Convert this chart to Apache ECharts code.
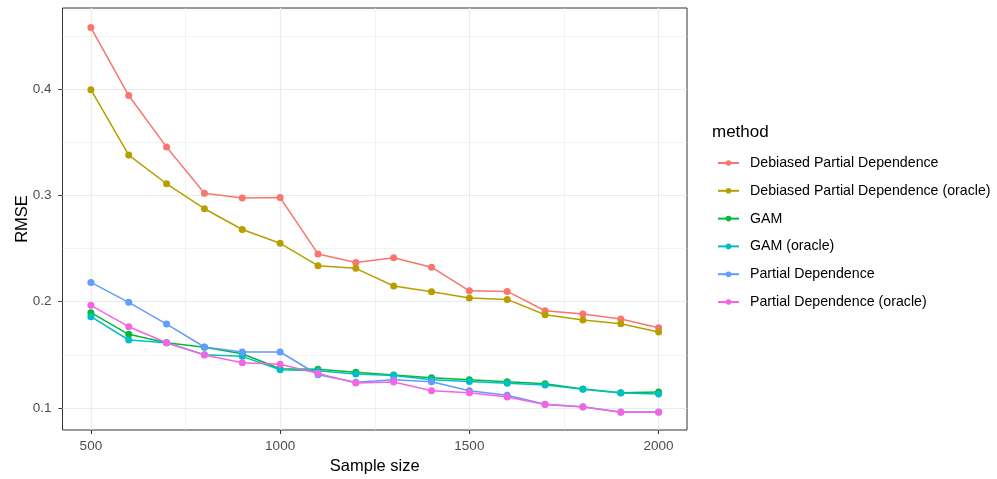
<!DOCTYPE html>
<html>
<head>
<meta charset="utf-8">
<script src="https://cdn.jsdelivr.net/npm/echarts@6/dist/echarts.min.js"></script>
<style>html,body{margin:0;padding:0;background:#fff}#c{width:997px;height:479px}</style>
</head>
<body>
<div id="c"></div>
<script>
var sampleSizes = [500,600,700,800,900,1000,1100,1200,1300,1400,1500,1600,1700,1800,1900,2000];
var methods = ["Debiased Partial Dependence","Debiased Partial Dependence (oracle)","GAM","GAM (oracle)","Partial Dependence","Partial Dependence (oracle)"];
var debiasedPD       = [0.458,0.394,0.3455,0.302,0.2975,0.298,0.245,0.237,0.2413,0.2325,0.2103,0.2097,0.1915,0.1884,0.1837,0.1755];
var debiasedPDOracle = [0.3995,0.338,0.311,0.2875,0.268,0.255,0.2339,0.2314,0.2148,0.2094,0.2035,0.2022,0.1878,0.1828,0.1793,0.1715];
var gam              = [0.1897,0.1693,0.1614,0.1571,0.1511,0.137,0.1364,0.1336,0.131,0.1285,0.1266,0.1248,0.1229,0.1179,0.1144,0.115];
var gamOracle        = [0.1859,0.164,0.1614,0.1502,0.1486,0.136,0.1351,0.132,0.1305,0.1266,0.125,0.1232,0.1216,0.1176,0.1141,0.1132];
var pd               = [0.2182,0.1994,0.179,0.1574,0.1527,0.1527,0.1313,0.1242,0.1265,0.1248,0.1163,0.112,0.1035,0.1012,0.0962,0.0962];
var pdOracle         = [0.1966,0.1765,0.1614,0.1498,0.1426,0.1411,0.1326,0.1235,0.1245,0.1163,0.1144,0.1103,0.1032,0.101,0.096,0.096];
var xTicks = [500,1000,1500,2000];
var xMinor = [750,1250,1750];
var yTicks = [0.1,0.2,0.3,0.4];
var yMinor = [0.15,0.25,0.35,0.45];

var allSeries = [debiasedPD,debiasedPDOracle,gam,gamOracle,pd,pdOracle];
var colors = ['#F8766D','#B79F00','#00BA38','#00BFC4','#619CFF','#F564E3'];
var FONT = '"Liberation Sans", Arial, sans-serif';

function pairs(arr){ return sampleSizes.map(function(x,i){ return [x, arr[i]]; }); }

var gridLines = [];
xMinor.forEach(function(v){ gridLines.push({xAxis:v, lineStyle:{width:0.6,color:'#EBEBEB',type:'solid'}}); });
yMinor.forEach(function(v){ gridLines.push({yAxis:v, lineStyle:{width:0.6,color:'#EBEBEB',type:'solid'}}); });
xTicks.forEach(function(v){ gridLines.push({xAxis:v, lineStyle:{width:1.2,color:'#EBEBEB',type:'solid'}}); });
yTicks.forEach(function(v){ gridLines.push({yAxis:v, lineStyle:{width:1.2,color:'#EBEBEB',type:'solid'}}); });

var series = [{
  type:'line', data:[], silent:true, zlevel:0, z:1,
  markLine:{silent:true, symbol:'none', label:{show:false}, animation:false, data:gridLines}
}];
allSeries.forEach(function(arr,i){
  series.push({
    name: methods[i], type:'line', data: pairs(arr), zlevel:1, z:3+i,
    symbol:'circle', symbolSize:7, showSymbol:true,
    lineStyle:{width:1.5,color:colors[i]}, itemStyle:{color:colors[i]},
    emphasis:{disabled:true}, animation:false
  });
});

var chart = echarts.init(document.getElementById('c'), null, {renderer:'canvas'});
chart.setOption({
  backgroundColor:'#fff',
  animation:false,
  color: colors,
  grid:{left:62.5, right:310, top:8, bottom:49, show:true, borderColor:'#333', borderWidth:1, backgroundColor:'#fff', containLabel:false, outerBoundsMode:'none'},
  xAxis:{
    type:'value', min:425, max:2075,
    name:'Sample size', nameLocation:'middle', nameGap:28, nameMoveOverlap:false,
    nameTextStyle:{fontFamily:FONT, fontSize:16.5, color:'#000'},
    axisLine:{show:false},
    axisTick:{show:true, length:4, lineStyle:{color:'#333'}, customValues:xTicks},
    axisLabel:{fontFamily:FONT, fontSize:13.5, color:'#4D4D4D', margin:9, customValues:xTicks, formatter:function(v){return String(v);}},
    splitLine:{show:false}
  },
  yAxis:{
    type:'value', min:0.0793, max:0.4764,
    name:'RMSE', nameLocation:'middle', nameGap:32, nameRotate:90, nameMoveOverlap:false,
    nameTextStyle:{fontFamily:FONT, fontSize:16.5, color:'#000'},
    axisLine:{show:false},
    axisTick:{show:true, length:4, lineStyle:{color:'#333'}, customValues:yTicks},
    axisLabel:{fontFamily:FONT, fontSize:13.5, color:'#4D4D4D', margin:11, customValues:yTicks, formatter:function(v){return v.toFixed(1);}},
    splitLine:{show:false}
  },
  legend:{
    data: methods, orient:'vertical', left:712, top:151,
    itemWidth:21, itemHeight:7, itemGap:13.8,
    textStyle:{fontFamily:FONT, fontSize:14.2, color:'#000', padding:[0,0,0,6]},
    selectedMode:false
  },
  graphic:[{
    type:'text', left:712, top:124,
    style:{text:'method', fontFamily:FONT, fontSize:17, fill:'#000'}
  }],
  series: series
});
</script>
</body>
</html>
